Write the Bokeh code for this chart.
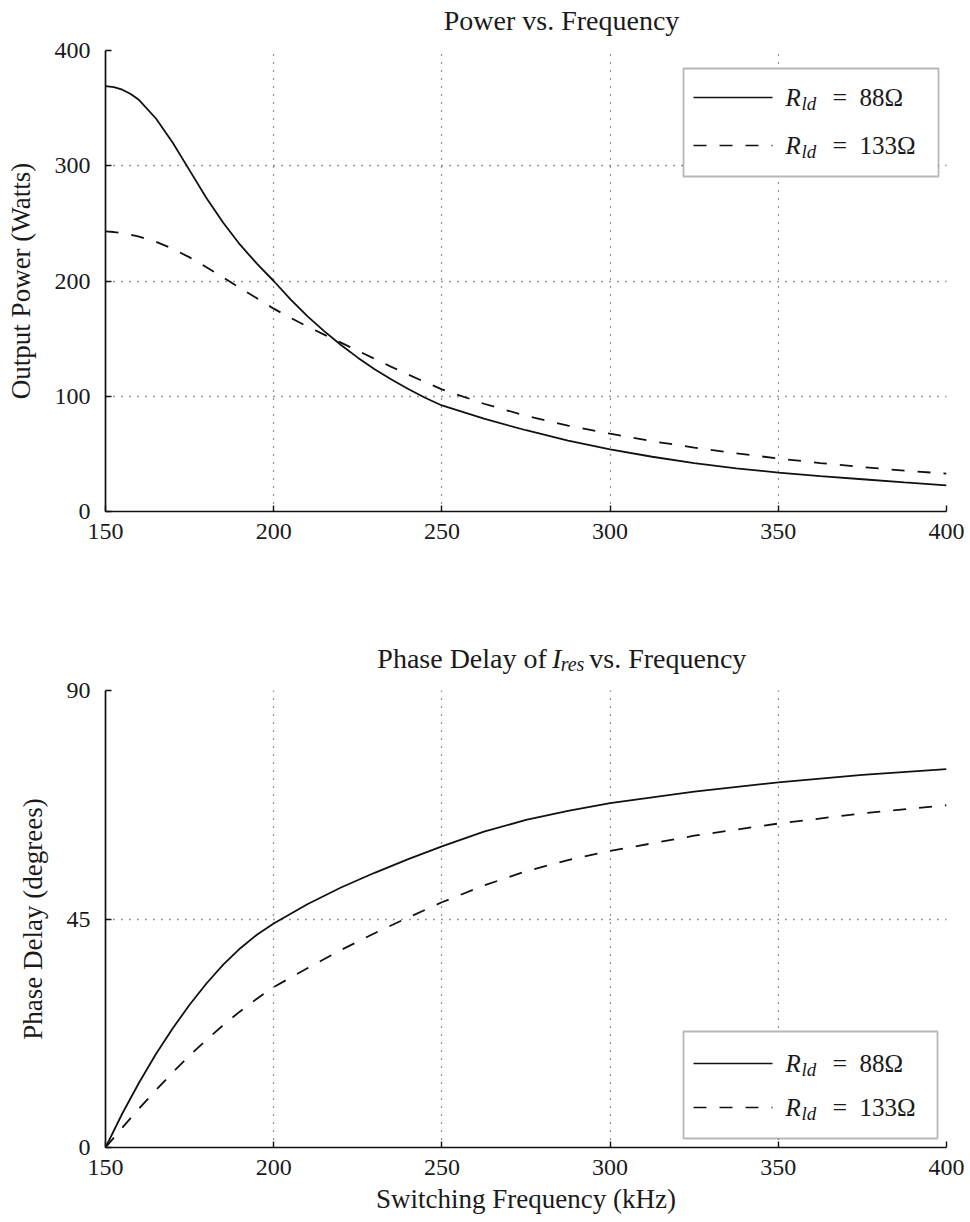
from bokeh.plotting import figure
from bokeh.layouts import column
from bokeh.models import Label, BoxAnnotation, FixedTicker, Range1d
from bokeh.embed import file_html
from bokeh.resources import INLINE

# ---------------- data ----------------
freq = [150, 152.5, 155, 157.5, 160, 165, 170, 175, 180, 185, 190, 195, 200, 205,
        210, 215, 220, 225, 230, 235, 240, 245, 250, 262.5, 275, 287.5, 300,
        312.5, 325, 337.5, 350, 362.5, 375, 387.5, 400]

power_88 = [369, 368.2, 366, 362.2, 357, 341, 320, 296, 272, 250.5, 231.5, 215, 200, 184,
            169.5, 156.5, 144.5, 133.5, 123.5, 114.5, 106.3, 98.7, 92, 80.5, 70.5, 61.5, 54,
            47.5, 42, 37.5, 33.8, 30.7, 28, 25.2, 22.7]

power_133 = [243, 242.5, 241.5, 240.2, 238.5, 234, 228, 220.5, 212, 203, 194, 185, 176, 168,
             160.5, 153.5, 146.5, 139.5, 132.5, 125.5, 118.8, 112.3, 106, 93.5, 83, 74.5, 67.5,
             61, 55.5, 50.5, 46, 42, 38.5, 35.5, 32.8]

phase_freq = [150, 155, 160, 165, 170, 175, 180, 185, 190, 195, 200, 210, 220,
              230, 240, 250, 262.5, 275, 287.5, 300, 325, 350, 375, 400]

phase_88 = [0, 6.7, 12.8, 18.4, 23.5, 28.1, 32.3, 36.0, 39.2, 41.9, 44.1, 47.9, 51.2,
            54.1, 56.8, 59.3, 62.2, 64.5, 66.3, 67.8, 70.1, 71.9, 73.4, 74.5]

phase_133 = [0, 3.9, 7.7, 11.3, 14.8, 18.1, 21.2, 24.1, 26.8, 29.3, 31.6, 35.3, 38.9,
             42.2, 45.3, 48.3, 51.6, 54.4, 56.6, 58.4, 61.4, 63.8, 65.8, 67.4]

x_ticks = [150, 200, 250, 300, 350, 400]
power_ticks = [0, 100, 200, 300, 400]
phase_ticks = [0, 45, 90]
load_values = ["88Ω", "133Ω"]

FONT = "Liberation Serif"
FS = "24px"
W = 970
L, R = 105, 946          # frame left/right on the page (px)
INK = "#111111"
TXT = "#1a1a1a"


def px2x(px):
    return 150 + (px - L) * 250.0 / (R - L)


def title_fig(height):
    f = figure(width=W, height=height, x_range=Range1d(0, W),
               y_range=Range1d(height, 0), output_backend="svg",
               toolbar_location=None, min_border=0,
               x_axis_location=None, y_axis_location=None)
    f.outline_line_color = None
    f.xgrid.visible = False
    f.ygrid.visible = False
    f.background_fill_color = "white"
    f.border_fill_color = "white"
    return f


def make_fig(height, top, frame_h, yr, yticks, ylabel, xlabel):
    p = figure(width=W, height=height, x_range=Range1d(150, 400),
               y_range=Range1d(*yr), output_backend="svg",
               toolbar_location=None, min_border_left=L,
               min_border_right=W - R, min_border_top=top,
               min_border_bottom=height - top - frame_h)
    p.outline_line_color = None
    p.background_fill_color = "white"
    p.border_fill_color = "white"
    for ax, ticks in ((p.xaxis, x_ticks), (p.yaxis, yticks)):
        ax.ticker = FixedTicker(ticks=ticks)
        ax.major_tick_in = 6
        ax.major_tick_out = 0
        ax.minor_tick_line_color = None
        ax.axis_line_width = 1.7
        ax.axis_line_color = INK
        ax.major_tick_line_width = 1.4
        ax.major_tick_line_color = INK
        ax.major_label_text_font = FONT
        ax.major_label_text_font_size = FS
        ax.major_label_text_color = TXT
        ax.axis_label_text_font = FONT
        ax.axis_label_text_font_size = "27px"
        ax.axis_label_text_font_style = "normal"
        ax.axis_label_text_color = TXT
    p.yaxis.major_label_standoff = 15
    p.xaxis.major_label_standoff = 12
    p.yaxis.axis_label_standoff = 16
    p.xaxis.axis_label_standoff = 6
    p.yaxis.axis_label = ylabel
    if xlabel:
        p.xaxis.axis_label = xlabel
    p.xgrid.ticker = FixedTicker(ticks=x_ticks)
    p.ygrid.ticker = FixedTicker(ticks=yticks)
    for g in (p.xgrid, p.ygrid):
        g.grid_line_color = "#333333"
        g.grid_line_dash = "1 7"
        g.grid_line_width = 1.3
    return p


def add_legend(p, py2y, box, rows):
    bl, bt, br, bb = box
    p.add_layout(BoxAnnotation(left=px2x(bl), right=px2x(br), top=py2y(bt),
                               bottom=py2y(bb), fill_color="white", fill_alpha=1,
                               line_color=INK, line_width=1.8))
    dashes = ["solid", "13 13"]
    for i, row in enumerate(rows):
        r = p.line([px2x(693), px2x(772)], [py2y(row), py2y(row)],
                   line_color=INK, line_width=1.7, line_dash=dashes[i])
        r.level = "overlay"
        p.add_layout(Label(x=px2x(785), y=py2y(row), text="R",
                           text_font=FONT, text_font_size="25px",
                           text_font_style="italic", text_color=TXT,
                           text_baseline="middle", level="overlay"))
        p.add_layout(Label(x=px2x(801), y=py2y(row + 6), text="ld",
                           text_font=FONT, text_font_size="19px",
                           text_font_style="italic", text_color=TXT,
                           text_baseline="middle", level="overlay"))
        p.add_layout(Label(x=px2x(832), y=py2y(row), text="=",
                           text_font=FONT, text_font_size="26px",
                           text_color=TXT, text_baseline="middle",
                           level="overlay"))
        p.add_layout(Label(x=px2x(859), y=py2y(row), text=load_values[i],
                           text_font=FONT, text_font_size="25px",
                           text_color=TXT, text_baseline="middle",
                           level="overlay"))


# ---------------- top title ----------------
H_T1 = 38
t1 = title_fig(H_T1)
t1.add_layout(Label(x=526, y=20, text="Power vs. Frequency", text_font=FONT,
                    text_font_size="28px", text_color=TXT, text_align="center",
                    text_baseline="middle"))

# ---------------- top: power ----------------
T1, B1 = 50, 511


def py_top(py):
    return (B1 - py) * 400.0 / (B1 - T1)


H_P1 = 522
p1 = make_fig(H_P1, T1 - H_T1, B1 - T1, (0, 400), power_ticks,
              "Output Power (Watts)", None)
p1.line(freq, power_88, line_color=INK, line_width=1.8)
p1.line(freq, power_133, line_color=INK, line_width=1.8, line_dash="13 13")
add_legend(p1, py_top, (683, 68, 938, 176), [97, 145])

# ---------------- bottom title ----------------
Y_T2 = H_T1 + H_P1          # page y where the second title strip starts
H_T2 = 116
t2 = title_fig(H_T2)
tc = 658 - Y_T2
t2.add_layout(Label(x=509, y=tc, text="Phase Delay of", text_font=FONT,
                    text_font_size="28px", text_color=TXT, text_align="right",
                    text_baseline="middle"))
t2.add_layout(Label(x=515, y=tc, text="I", text_font=FONT, text_font_size="28px",
                    text_font_style="italic", text_color=TXT,
                    text_baseline="middle"))
t2.add_layout(Label(x=525, y=tc + 5, text="res", text_font=FONT,
                    text_font_size="20px", text_font_style="italic",
                    text_color=TXT, text_baseline="middle"))
t2.add_layout(Label(x=558, y=tc, text="vs. Frequency", text_font=FONT,
                    text_font_size="28px", text_color=TXT,
                    text_baseline="middle"))

# ---------------- bottom: phase ----------------
Y_P2 = Y_T2 + H_T2
T2, B2 = 690, 1147


def py_bot(py):
    return (B2 - py) * 90.0 / (B2 - T2)


H_P2 = 544
p2 = make_fig(H_P2, T2 - Y_P2, B2 - T2, (0, 90), phase_ticks,
              "Phase Delay (degrees)", "Switching Frequency (kHz)")
p2.line(phase_freq, phase_88, line_color=INK, line_width=1.8)
p2.line(phase_freq, phase_133, line_color=INK, line_width=1.8, line_dash="13 13")
add_legend(p2, py_bot, (683, 1031, 937, 1138), [1063, 1107])

layout = column(t1, p1, t2, p2, spacing=0)
open("out.html", "w").write(file_html(layout, INLINE))
